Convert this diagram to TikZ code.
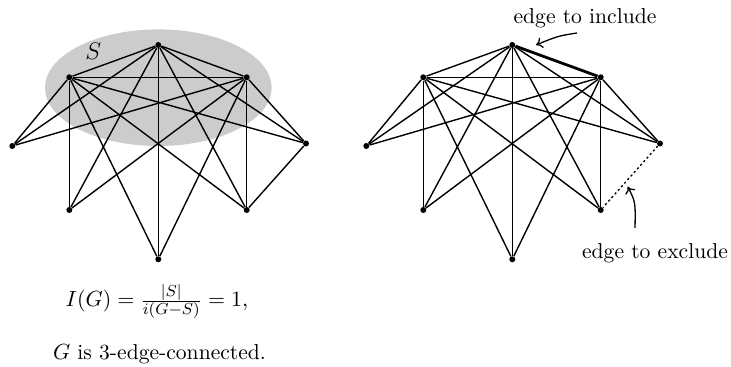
\documentclass[tikz,border=0pt]{standalone}
\usetikzlibrary{arrows.meta}
\begin{document}
\begin{tikzpicture}[x=0.5pt,y=-0.5pt,
  vtx/.style={circle,fill=black,inner sep=0pt,minimum size=3pt},
  edg/.style={line width=0.7pt},
  thickedg/.style={line width=1.4pt},
  dotedg/.style={line width=0.65pt,dash pattern=on 1.1pt off 1.3pt},
  lbl/.style={font=\fontsize{10.8}{13}\selectfont,inner sep=0pt},
  pointer/.style={line width=0.65pt,-{To[length=3.2pt,width=5.5pt]}}]
\useasboundingbox (0,0) rectangle (731,367);
% shaded set S
\fill[gray!40] (158.3,87.7) ellipse [x radius=113.3, y radius=58.3];
\node[lbl,font=\fontsize{12.5}{14}\selectfont] (Slab) at (93.3,51.7) {$S$};
% both graphs
\foreach \p/\x/\y in {T/158.3/45, UL/69.3/77.3, UR/246.7/77.3, L/12.3/146, R/306/143.5, LL/69.3/210, LR/246.7/210, B/158.3/259.3}{
  \node[vtx] (l\p) at (\x,\y) {};
  \node[vtx] (r\p) at ({\x+354},\y) {};
}
\foreach \g in {l,r}{
  \draw[edg] (\g T) -- (\g UL);
  \draw[edg] (\g UL) -- (\g UR);
  \foreach \v in {L,R,LL,LR,B}{
    \draw[edg] (\g\v) -- (\g T);
    \draw[edg] (\g\v) -- (\g UL);
    \draw[edg] (\g\v) -- (\g UR);
  }
}
\draw[edg] (lT) -- (lUR);
\draw[edg] (lR) -- (lLR);
\draw[thickedg] (rT) -- (rUR);
\draw[dotedg] (rR) -- (rLR);
% labels
\node[lbl,anchor=base] (inc) at (585,23.3) {edge to include};
\node[lbl,anchor=base] (exc) at (655,258.3) {edge to exclude};
\coordinate (incT) at (577,33);
\coordinate (incH) at (536,45);
\coordinate (excT) at (635,228);
\coordinate (excH) at (627.7,186.7);
\draw[pointer] (incT) .. controls (558,36) .. (incH);
\draw[pointer] (excT) .. controls (635.5,202) .. (excH);
\node[lbl,anchor=base] (form) at (157,306.7) {$I(G)=\frac{|S|}{i(G{-}S)}=1,$};
\node[lbl,anchor=base] (conn) at (159.5,359.3) {$G$ is 3-edge-connected.};
\end{tikzpicture}
\end{document}
